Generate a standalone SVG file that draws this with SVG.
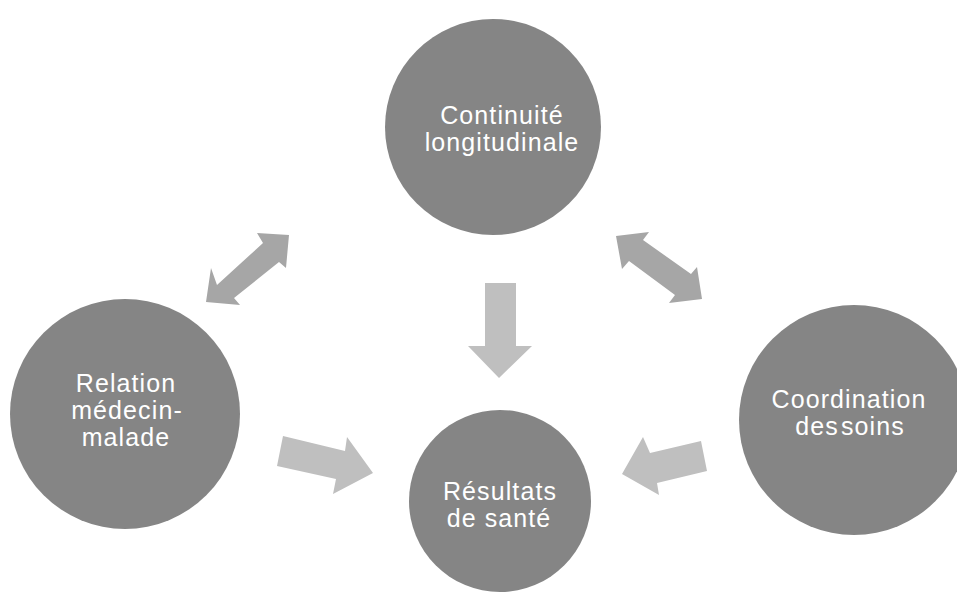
<svg xmlns="http://www.w3.org/2000/svg" width="957" height="592" viewBox="0 0 957 592">
<style>
.node{fill:#858585;}
.lbl{font-family:"Liberation Sans",Arial,sans-serif;font-size:25px;fill:#ffffff;text-anchor:middle;letter-spacing:1.1px;}
.dbl{fill:#a6a6a6;}
.sgl{fill:#bfbfbf;}
</style>
<rect width="957" height="592" fill="#ffffff"/>
<g id="connectors">
<polygon class="dbl" points="289,235 257,233 263,243 217,285 211,268 206,302 240,305 234,298 279,262 286,268"/>
<polygon class="dbl" points="616,236 649,232 643,240 691,274 697,267 702,299 669,303 675,295 629,261 622,269"/>
<polygon class="sgl" points="485,283 516,283 516,346 532,346 499,378 468,346 485,346"/>
<polygon class="sgl" points="283,436 345,451 347,437 373,473 333,494 336,479 277,466"/>
<polygon class="sgl" points="701,441 707,471 657,483 659,495 622,474 643,437 650,453"/>
</g>
<g id="node-continuite">
<circle class="node" cx="493" cy="127" r="108"/>
<text class="lbl" x="502" y="124">Continuité</text>
<text class="lbl" x="502" y="151">longitudinale</text>
</g>
<g id="node-relation">
<circle class="node" cx="125" cy="414" r="115"/>
<text class="lbl" x="126" y="392">Relation</text>
<text class="lbl" x="127" y="419">médecin-</text>
<text class="lbl" x="126" y="446">malade</text>
</g>
<g id="node-coordination">
<circle class="node" cx="854" cy="420" r="115"/>
<text class="lbl" x="849" y="408">Coordination</text>
<text class="lbl" x="850" y="435" word-spacing="-6">des soins</text>
</g>
<g id="node-resultats">
<circle class="node" cx="500" cy="501" r="91"/>
<text class="lbl" x="500" y="500">Résultats</text>
<text class="lbl" x="499" y="527">de santé</text>
</g>
</svg>
